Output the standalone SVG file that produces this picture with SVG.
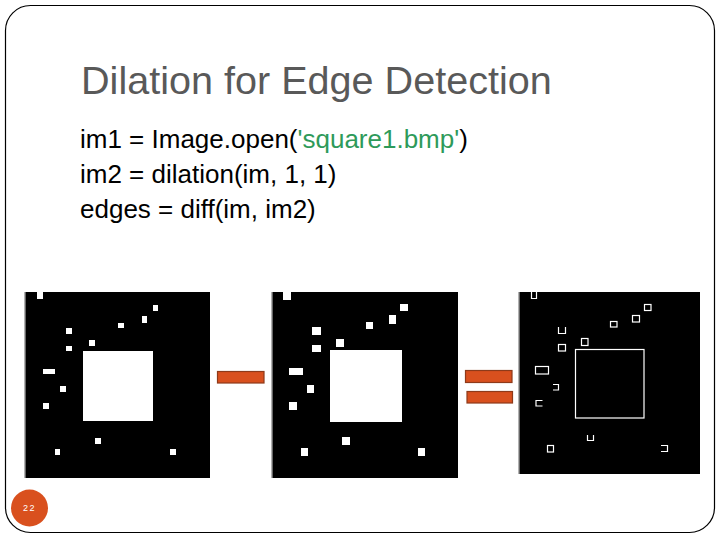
<svg xmlns="http://www.w3.org/2000/svg" width="720" height="540" viewBox="0 0 720 540">
<style>
.t{font-family:"Liberation Sans",Arial,sans-serif}
.code{font-size:26px;fill:#000}
.g{fill:#2E9A5A}
.w{fill:#fff}
.o{fill:none;stroke:#fff;stroke-width:1.2}
.bar{fill:#D9501E;stroke:#8E3A1A;stroke-width:1.2}
</style>
<rect x="0" y="0" width="720" height="540" fill="#fff"/>
<rect x="5.5" y="5.5" width="709" height="527" rx="25" ry="25" fill="none" stroke="#000" stroke-width="1.2"/>
<g id="title"><text class="t" x="81" y="94" font-size="39.6" fill="#595959">Dilation for Edge Detection</text></g>
<g id="code" class="t code">
<text x="80" y="148">im1 = Image.open(<tspan class="g">'square1.bmp'</tspan>)</text>
<text x="80" y="183">im2 = dilation(im, 1, 1)</text>
<text x="80" y="218">edges = diff(im, im2)</text>
</g>
<g id="image1">
<rect x="25" y="292" width="185" height="186" fill="#000"/>
<rect x="24.5" y="292" width="1.5" height="186" fill="#666"/>
<g class="w">
<rect x="37" y="292" width="6" height="7"/>
<rect x="153" y="305" width="5" height="6"/>
<rect x="142" y="316" width="5" height="7"/>
<rect x="118" y="323" width="6" height="5"/>
<rect x="66" y="328" width="6" height="6"/>
<rect x="66" y="346" width="6" height="5"/>
<rect x="89" y="340" width="6" height="6"/>
<rect x="83" y="351" width="70" height="70"/>
<rect x="43" y="369" width="12" height="5"/>
<rect x="60" y="386" width="6" height="6"/>
<rect x="43" y="403" width="6" height="6"/>
<rect x="95" y="438" width="6" height="6"/>
<rect x="55" y="449" width="5" height="6"/>
<rect x="170" y="449" width="6" height="6"/>
</g>
</g>
<g id="image2">
<rect x="272" y="292" width="186" height="186" fill="#000"/>
<rect x="271.5" y="292" width="1.5" height="186" fill="#666"/>
<g class="w">
<rect x="283" y="292" width="8" height="8"/>
<rect x="400" y="304" width="8" height="7"/>
<rect x="389" y="315" width="7" height="9"/>
<rect x="366" y="322" width="7" height="7"/>
<rect x="312" y="327" width="9" height="8"/>
<rect x="312" y="345" width="9" height="7"/>
<rect x="336" y="339" width="8" height="8"/>
<rect x="330" y="350" width="72" height="72"/>
<rect x="289" y="368" width="14" height="7"/>
<rect x="307" y="385" width="7" height="8"/>
<rect x="289" y="402" width="8" height="8"/>
<rect x="342" y="437" width="8" height="8"/>
<rect x="301" y="448" width="7" height="8"/>
<rect x="418" y="448" width="7" height="8"/>
</g>
</g>
<g id="image3">
<rect x="519" y="292" width="181" height="182" fill="#000"/>
<rect x="518.5" y="292" width="1.5" height="182" fill="#666"/>
<g class="o">
<path d="M531.5 292V298.5H536.5V292"/>
<rect x="644.5" y="304.5" width="6.5" height="6"/>
<rect x="632.5" y="315.5" width="7" height="6.5"/>
<rect x="610.5" y="321.5" width="6.5" height="5.5"/>
<path d="M558.5 327V333.5H565.5V327"/>
<rect x="558.5" y="344.5" width="7" height="6.5"/>
<rect x="581.5" y="338.5" width="6.5" height="7"/>
<rect x="575.5" y="349.5" width="68.5" height="68.5"/>
<rect x="535.5" y="366.5" width="13" height="7.5"/>
<path d="M553 384.5H558.5V390H553"/>
<path d="M542.5 400.5H536V406H542.5"/>
<path d="M587.5 435V440.5H593.5V435"/>
<rect x="547.5" y="445.5" width="6" height="6.5"/>
<path d="M661 445.5H667.5V451.5H661"/>
</g>
</g>
<g id="minus"><rect class="bar" x="217.5" y="371.5" width="46.5" height="11.5"/></g>
<g id="equals">
<rect class="bar" x="465.5" y="370.5" width="46.5" height="12"/>
<rect class="bar" x="467" y="391.5" width="45.5" height="11.5"/>
</g>
<g id="pagenum">
<circle cx="29.5" cy="508" r="18.5" fill="#D9501E"/>
<text class="t" x="29.5" y="511" font-size="9" fill="#fff" text-anchor="middle" letter-spacing="1.5">22</text>
</g>
</svg>
